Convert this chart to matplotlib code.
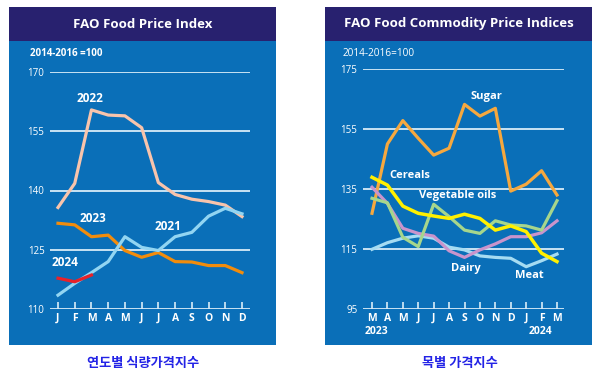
import matplotlib
matplotlib.use("Agg")
import matplotlib.pyplot as plt
from matplotlib.patches import Rectangle

plt.rcParams['font.family'] = ['Open Sans', 'DejaVu Sans']

# ---------------- data ----------------
months_left = ["J", "F", "M", "A", "M", "J", "J", "A", "S", "O", "N", "D"]
y2021 = [113.5, 116.5, 119.2, 122.0, 128.3, 125.6, 124.8, 128.3, 129.4, 133.5, 135.5, 134.1]
y2022 = [135.7, 141.8, 160.4, 159.1, 158.9, 155.9, 142.0, 139.0, 137.8, 137.2, 136.3, 133.4]
y2023 = [131.7, 131.3, 128.3, 128.7, 124.8, 123.1, 124.3, 122.0, 121.9, 121.0, 121.0, 119.2]
y2024 = [117.8, 116.9, 118.6]
left_yticks = [110, 125, 140, 155, 170]

months_right = ["M", "A", "M", "J", "J", "A", "S", "O", "N", "D", "J", "F", "M"]
sugar = [126.9, 150.0, 157.8, 151.9, 146.3, 148.6, 163.2, 159.3, 161.9, 134.3, 136.6, 141.1, 133.0]
cereals = [138.9, 136.3, 129.3, 126.9, 126.0, 125.2, 126.6, 125.2, 121.3, 122.7, 120.8, 113.6, 110.8]
veg_oils = [131.9, 130.4, 118.9, 115.8, 129.9, 125.8, 121.3, 120.2, 124.4, 123.0, 122.7, 121.3, 131.1]
dairy = [135.6, 130.2, 121.9, 120.2, 119.3, 114.4, 112.2, 114.7, 116.7, 119.1, 119.1, 120.4, 124.4]
meat = [114.9, 117.1, 118.6, 119.4, 118.6, 115.6, 114.7, 112.7, 112.2, 111.9, 109.1, 111.1, 113.3]
right_yticks = [95, 115, 135, 155, 175]

# ---------------- style ----------------
W, H = 600, 375
BLUE = "#0a6fb8"
NAVY = "#28216f"
GRID = "#d8ecf8"
fig = plt.figure(figsize=(6, 3.75), dpi=100)
fig.patch.set_facecolor("white")

def fx(px):
    return px / W

def fy(py):
    return 1 - py / H

def panel(x0, x1, title):
    fig.patches.append(Rectangle((fx(x0), fy(345)), fx(x1 - x0), (338) / H,
                                 transform=fig.transFigure, facecolor=BLUE,
                                 edgecolor="none", zorder=-5))
    fig.patches.append(Rectangle((fx(x0), fy(41)), fx(x1 - x0), 34 / H,
                                 transform=fig.transFigure, facecolor=NAVY,
                                 edgecolor="none", zorder=-4))
    fig.text(fx((x0 + x1) / 2), fy(24), title, color="white", fontsize=9.5,
             fontweight="bold", ha="center", va="center")

def setup_axes(ax, n, months, yticks, ylim):
    ax.set_zorder(3)
    ax.set_facecolor("none")
    ax.patch.set_alpha(0)
    ax.set_ylim(*ylim)
    for s in ax.spines.values():
        s.set_visible(False)
    for v in yticks:
        ax.axhline(v, color=GRID, lw=1.3, zorder=1)
    ax.set_xticks(range(n))
    ax.set_xticklabels(months, color="white", fontsize=7.5, fontweight="bold")
    ax.tick_params(axis="x", direction="in", length=5, width=1.2, color=GRID, pad=3)
    ax.set_yticks(yticks)
    ax.set_yticklabels([str(v) for v in yticks], color="white", fontsize=7)
    ax.tick_params(axis="y", length=0, pad=4)

# ---------------- left panel ----------------
panel(9, 276, "FAO Food Price Index")
axL = fig.add_axes([fx(50), fy(309), fx(200), 237 / H])
sp = (242 - 58) / 11
axL.set_xlim(-(58 - 50) / sp, 11 + (250 - 242) / sp)
setup_axes(axL, 12, months_left, left_yticks, (110, 170))
xL = list(range(12))
axL.plot(xL, y2022, color="#f8c4ac", lw=2.3, zorder=3)
axL.plot(xL, y2023, color="#f28c0c", lw=2.3, zorder=3)
axL.plot(xL, y2021, color="#92d5f2", lw=2.3, zorder=3)
axL.plot(xL[:3], y2024, color="#e8222a", lw=2.3, zorder=4)
fig.text(fx(30), fy(53), "2014-2016 =100", color="white", fontsize=7,
         fontweight="bold", va="center")
for lbl, px, py in [("2022", 90, 99), ("2023", 93, 218), ("2021", 168, 227), ("2024", 65, 263)]:
    fig.text(fx(px), fy(py), lbl, color="white", fontsize=8.5, fontweight="bold",
             ha="center", va="center")

# ---------------- right panel ----------------
panel(325, 592, "FAO Food Commodity Price Indices")
axR = fig.add_axes([fx(363), fy(309), fx(201), 240 / H])
spR = (557 - 372) / 12
axR.set_xlim(-(372 - 363) / spR, 12 + (564 - 557) / spR)
setup_axes(axR, 13, months_right, right_yticks, (95, 175))
xR = list(range(13))
axR.plot(xR, sugar, color="#f6a83e", lw=2.3, zorder=3)
axR.plot(xR, meat, color="#a6dcf2", lw=2.3, zorder=3)
axR.plot(xR, dairy, color="#c994cc", lw=2.3, zorder=3)
axR.plot(xR, veg_oils, color="#a6d68c", lw=2.3, zorder=4)
axR.plot(xR, cereals, color="#fff000", lw=2.5, zorder=5)
fig.text(fx(343), fy(53), "2014-2016=100", color="white", fontsize=7.2, va="center")
for lbl, px, py in [("Sugar", 486, 97), ("Cereals", 410, 175), ("Vegetable oils", 458, 196),
                    ("Dairy", 466, 268), ("Meat", 529, 276)]:
    fig.text(fx(px), fy(py), lbl, color="white", fontsize=8, fontweight="bold",
             ha="center", va="center", zorder=6)
fig.text(fx(376), fy(332), "2023", color="white", fontsize=7.5, fontweight="bold",
         ha="center", va="center")
fig.text(fx(540), fy(332), "2024", color="white", fontsize=7.5, fontweight="bold",
         ha="center", va="center")

# ---------------- captions ----------------
fig.text(fx(143), fy(363), "연도별 식량가격지수", color="#2323e6", fontsize=9.5,
         family=["Noto Sans CJK KR", "DejaVu Sans"], fontweight="bold",
         ha="center", va="center")
fig.text(fx(460), fy(363), "목별 가격지수", color="#2323e6", fontsize=9.5,
         family=["Noto Sans CJK KR", "DejaVu Sans"], fontweight="bold",
         ha="center", va="center")

fig.savefig("out.png", dpi=100, facecolor="white")
